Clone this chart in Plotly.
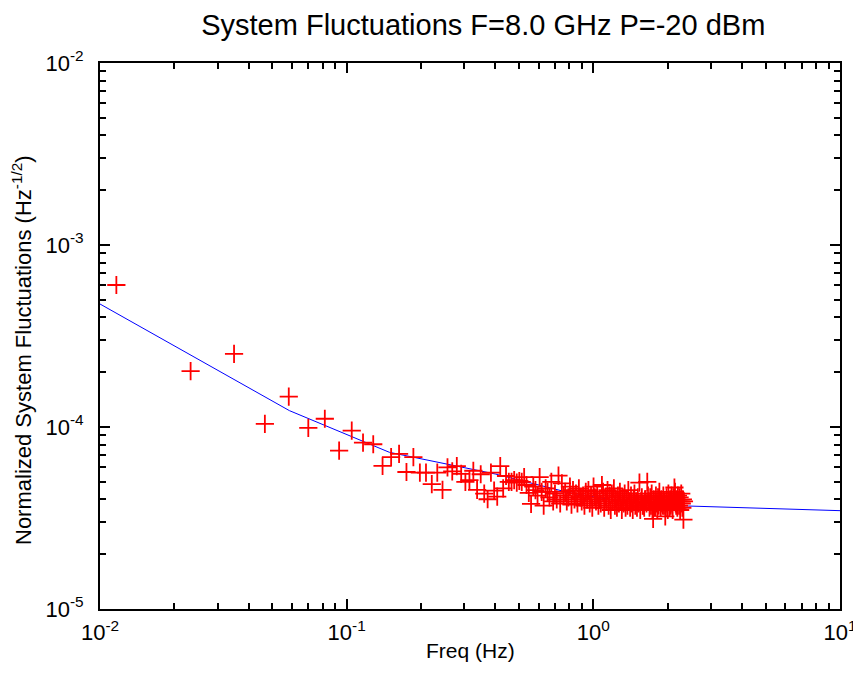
import plotly.graph_objects as go

# measured spectrum (FFT bins, Hz)
freq = [
    0.01165, 0.0233, 0.03495, 0.0466, 0.05825, 0.0699, 0.08155, 0.0932, 0.10485, 0.1165,
    0.12815, 0.1398, 0.15145, 0.1631, 0.17475, 0.1864, 0.19805, 0.2097, 0.22135, 0.233,
    0.24465, 0.2563, 0.26795, 0.2796, 0.29125, 0.3029, 0.31455, 0.3262, 0.33785, 0.3495,
    0.36115, 0.3728, 0.38445, 0.3961, 0.40775, 0.4194, 0.43105, 0.4427, 0.45435, 0.466,
    0.47765, 0.4893, 0.50095, 0.5126, 0.52425, 0.5359, 0.54755, 0.5592, 0.57085, 0.5825,
    0.59415, 0.6058, 0.61745, 0.6291, 0.64075, 0.6524, 0.66405, 0.6757, 0.68735, 0.699,
    0.71065, 0.7223, 0.73395, 0.7456, 0.75725, 0.7689, 0.78055, 0.7922, 0.80385, 0.8155,
    0.82715, 0.8388, 0.85045, 0.8621, 0.87375, 0.8854, 0.89705, 0.9087, 0.92035, 0.932,
    0.94365, 0.9553, 0.96695, 0.9786, 0.99025, 1.0019, 1.01355, 1.0252, 1.03685, 1.0485,
    1.06015, 1.0718, 1.08345, 1.0951, 1.10675, 1.1184, 1.13005, 1.1417, 1.15335, 1.165,
    1.17665, 1.1883, 1.19995, 1.2116, 1.22325, 1.2349, 1.24655, 1.2582, 1.26985, 1.2815,
    1.29315, 1.3048, 1.31645, 1.3281, 1.33975, 1.3514, 1.36305, 1.3747, 1.38635, 1.398,
    1.40965, 1.4213, 1.43295, 1.4446, 1.45625, 1.4679, 1.47955, 1.4912, 1.50285, 1.5145,
    1.52615, 1.5378, 1.54945, 1.5611, 1.57275, 1.5844, 1.59605, 1.6077, 1.61935, 1.631,
    1.64265, 1.6543, 1.66595, 1.6776, 1.68925, 1.7009, 1.71255, 1.7242, 1.73585, 1.7475,
    1.75915, 1.7708, 1.78245, 1.7941, 1.80575, 1.8174, 1.82905, 1.8407, 1.85235, 1.864,
    1.87565, 1.8873, 1.89895, 1.9106, 1.92225, 1.9339, 1.94555, 1.9572, 1.96885, 1.9805,
    1.99215, 2.0038, 2.01545, 2.0271, 2.03875, 2.0504, 2.06205, 2.0737, 2.08535, 2.097,
    2.10865, 2.1203, 2.13195, 2.1436, 2.15525, 2.1669, 2.17855, 2.1902, 2.20185, 2.2135,
    2.22515, 2.2368, 2.24845, 2.2601, 2.27175, 2.2834, 2.29505, 2.3067, 2.31835, 2.33,
]

fluct = [
    60.3e-5, 20.3e-5, 25.2e-5, 10.4e-5, 14.7e-5, 9.9e-5, 11.1e-5, 7.41e-5, 9.55e-5, 8.2e-5,
    8.04e-5, 6.12e-5, 6.83e-5, 7.11e-5, 5.66e-5, 6.83e-5, 5.61e-5, 5.61e-5, 4.86e-5, 5.61e-5,
    4.51e-5, 6.0e-5, 5.7e-5, 6.1e-5, 5.52e-5, 4.99e-5, 5.1e-5, 5.75e-5, 4.51e-5, 5.5e-5,
    4.3e-5, 4.01e-5, 5.61e-5, 4.47e-5, 4.14e-5, 6.1e-5, 4.6e-5, 5.38e-5, 4.99e-5, 5.0e-5,
    5.1e-5, 4.95e-5, 5.05e-5, 5.0e-5, 5.3e-5, 4.8e-5, 4.35e-5, 3.78e-5, 4.7e-5, 4.5e-5,
    4.2e-5, 5.3e-5, 4.4e-5, 3.7e-5, 4.6e-5, 4.4e-5, 4.1e-5, 5.0e-5, 3.9e-5, 4.3e-5,
    4.0e-5, 5.4e-5, 3.8e-5, 4.9e-5, 4.2e-5, 4.4e-5, 3.9e-5, 4.1e-5, 4.7e-5, 3.75e-5,
    4.5e-5, 4.0e-5, 4.3e-5, 3.8e-5, 4.6e-5, 4.1e-5, 3.9e-5, 4.2e-5, 3.7e-5, 4.4e-5,
    4.0e-5, 4.5e-5, 3.8e-5, 4.2e-5, 3.6e-5, 4.7e-5, 4.1e-5, 3.9e-5, 4.3e-5, 3.7e-5,
    4.0e-5, 3.8e-5, 4.8e-5, 4.4e-5, 3.6e-5, 4.1e-5, 3.9e-5, 4.5e-5, 3.7e-5, 4.2e-5,
    3.5e-5, 4.3e-5, 3.9e-5, 4.6e-5, 3.7e-5, 4.0e-5, 3.6e-5, 4.2e-5, 3.8e-5, 4.4e-5,
    3.9e-5, 3.5e-5, 4.1e-5, 3.8e-5, 4.3e-5, 3.6e-5, 4.0e-5, 3.7e-5, 4.5e-5, 3.9e-5,
    3.6e-5, 4.2e-5, 3.8e-5, 3.5e-5, 4.0e-5, 4.3e-5, 3.7e-5, 3.9e-5, 3.6e-5, 4.1e-5,
    3.8e-5, 4.95e-5, 3.5e-5, 3.9e-5, 4.1e-5, 3.7e-5, 3.7e-5, 3.6e-5, 4.0e-5, 4.0e-5,
    3.8e-5, 5.0e-5, 4.2e-5, 3.9e-5, 3.6e-5, 4.1e-5, 3.7e-5, 4.3e-5, 3.5e-5, 3.13e-5,
    4.0e-5, 3.6e-5, 3.6e-5, 4.2e-5, 3.8e-5, 3.5e-5, 4.1e-5, 3.7e-5, 4.4e-5, 3.9e-5,
    3.6e-5, 4.0e-5, 3.8e-5, 3.7e-5, 4.2e-5, 3.7e-5, 3.9e-5, 3.23e-5, 3.6e-5, 4.1e-5,
    3.8e-5, 3.5e-5, 4.3e-5, 3.9e-5, 3.6e-5, 4.0e-5, 3.7e-5, 4.2e-5, 3.8e-5, 3.5e-5,
    4.1e-5, 3.9e-5, 4.65e-5, 4.4e-5, 3.8e-5, 3.7e-5, 4.0e-5, 3.6e-5, 4.2e-5, 3.9e-5,
    3.7e-5, 4.1e-5, 3.5e-5, 3.9e-5, 4.3e-5, 3.8e-5, 3.6e-5, 4.0e-5, 3.1e-5, 3.9e-5,
]

# fitted curve
fit_freq = [0.01, 0.0586, 0.149, 0.4, 0.8, 1.27, 2.43, 10]
fit_vals = [4.74e-4, 1.23e-4, 7.26e-5, 5.52e-5, 4.35e-5, 3.92e-5, 3.68e-5, 3.47e-5]

# axis labels
x_tickvals = [0.01, 0.1, 1, 10]
x_ticktext = ['10<sup>-2</sup>', '10<sup>-1</sup>', '10<sup>0</sup>', '10<sup>1</sup>']
y_tickvals = [1e-5, 1e-4, 1e-3, 1e-2]
y_ticktext = ['10<sup>-5</sup>', '10<sup>-4</sup>', '10<sup>-3</sup>', '10<sup>-2</sup>']

x_minor = [m * d for d in (0.01, 0.1, 1) for m in range(2, 10)]
y_minor = [m * d for d in (1e-5, 1e-4, 1e-3) for m in range(2, 10)]

FONT = 'Liberation Sans, Arial, sans-serif'

fig = go.Figure()

fig.add_trace(go.Scatter(
    x=fit_freq, y=fit_vals,
    mode='lines',
    line=dict(color='#0000ff', width=1),
    showlegend=False
))

fig.add_trace(go.Scatter(
    x=freq, y=fluct,
    mode='markers',
    marker=dict(symbol='cross-thin', size=13, color='#ff0000',
                line=dict(color='#ff0000', width=1.8)),
    showlegend=False
))

axis_common = dict(
    type='log',
    showline=True, linecolor='black', linewidth=2,
    mirror='ticks',
    ticks='inside', ticklen=10, tickwidth=2, tickcolor='black',
    showgrid=False, zeroline=False,
    tickmode='array',
    tickfont=dict(family=FONT, size=22, color='black'),
)

fig.update_xaxes(
    **axis_common,
    range=[-2, 1],
    tickvals=x_tickvals, ticktext=x_ticktext,
    ticklabelstandoff=3,
    minor=dict(ticks='inside', ticklen=6, tickwidth=1.5, tickcolor='black',
               tickmode='array', tickvals=x_minor, showgrid=False),
)

fig.update_yaxes(
    **axis_common,
    range=[-5, -2],
    tickvals=y_tickvals, ticktext=y_ticktext,
    ticklabelstandoff=10,
    minor=dict(ticks='inside', ticklen=6, tickwidth=1.5, tickcolor='black',
               tickmode='array', tickvals=y_minor, showgrid=False),
)

# axis titles as annotations so they sit where the original has them
fig.add_annotation(
    text='Freq (Hz)', xref='paper', yref='paper', x=0.5, y=0,
    xanchor='center', yanchor='middle', yshift=-41, showarrow=False,
    font=dict(family=FONT, size=21, color='black'),
)
fig.add_annotation(
    text='Normalized System Fluctuations (Hz<sup>-1/2</sup>)',
    xref='paper', yref='paper', x=0, y=0.5, textangle=-90,
    xanchor='center', yanchor='middle', xshift=-78, yshift=-14, showarrow=False,
    font=dict(family=FONT, size=22, color='black'),
)

# page body adds an 8px offset, margins compensate for it
fig.update_layout(
    width=861, height=691,
    margin=dict(l=92, r=27, t=55, b=90),
    paper_bgcolor='white', plot_bgcolor='white',
    title=dict(text='System Fluctuations F=8.0 GHz P=-20 dBm',
               font=dict(family=FONT, size=29, color='black'),
               x=0.552, xanchor='center', y=0.975, yanchor='middle'),
)

fig.write_html("out.html")
